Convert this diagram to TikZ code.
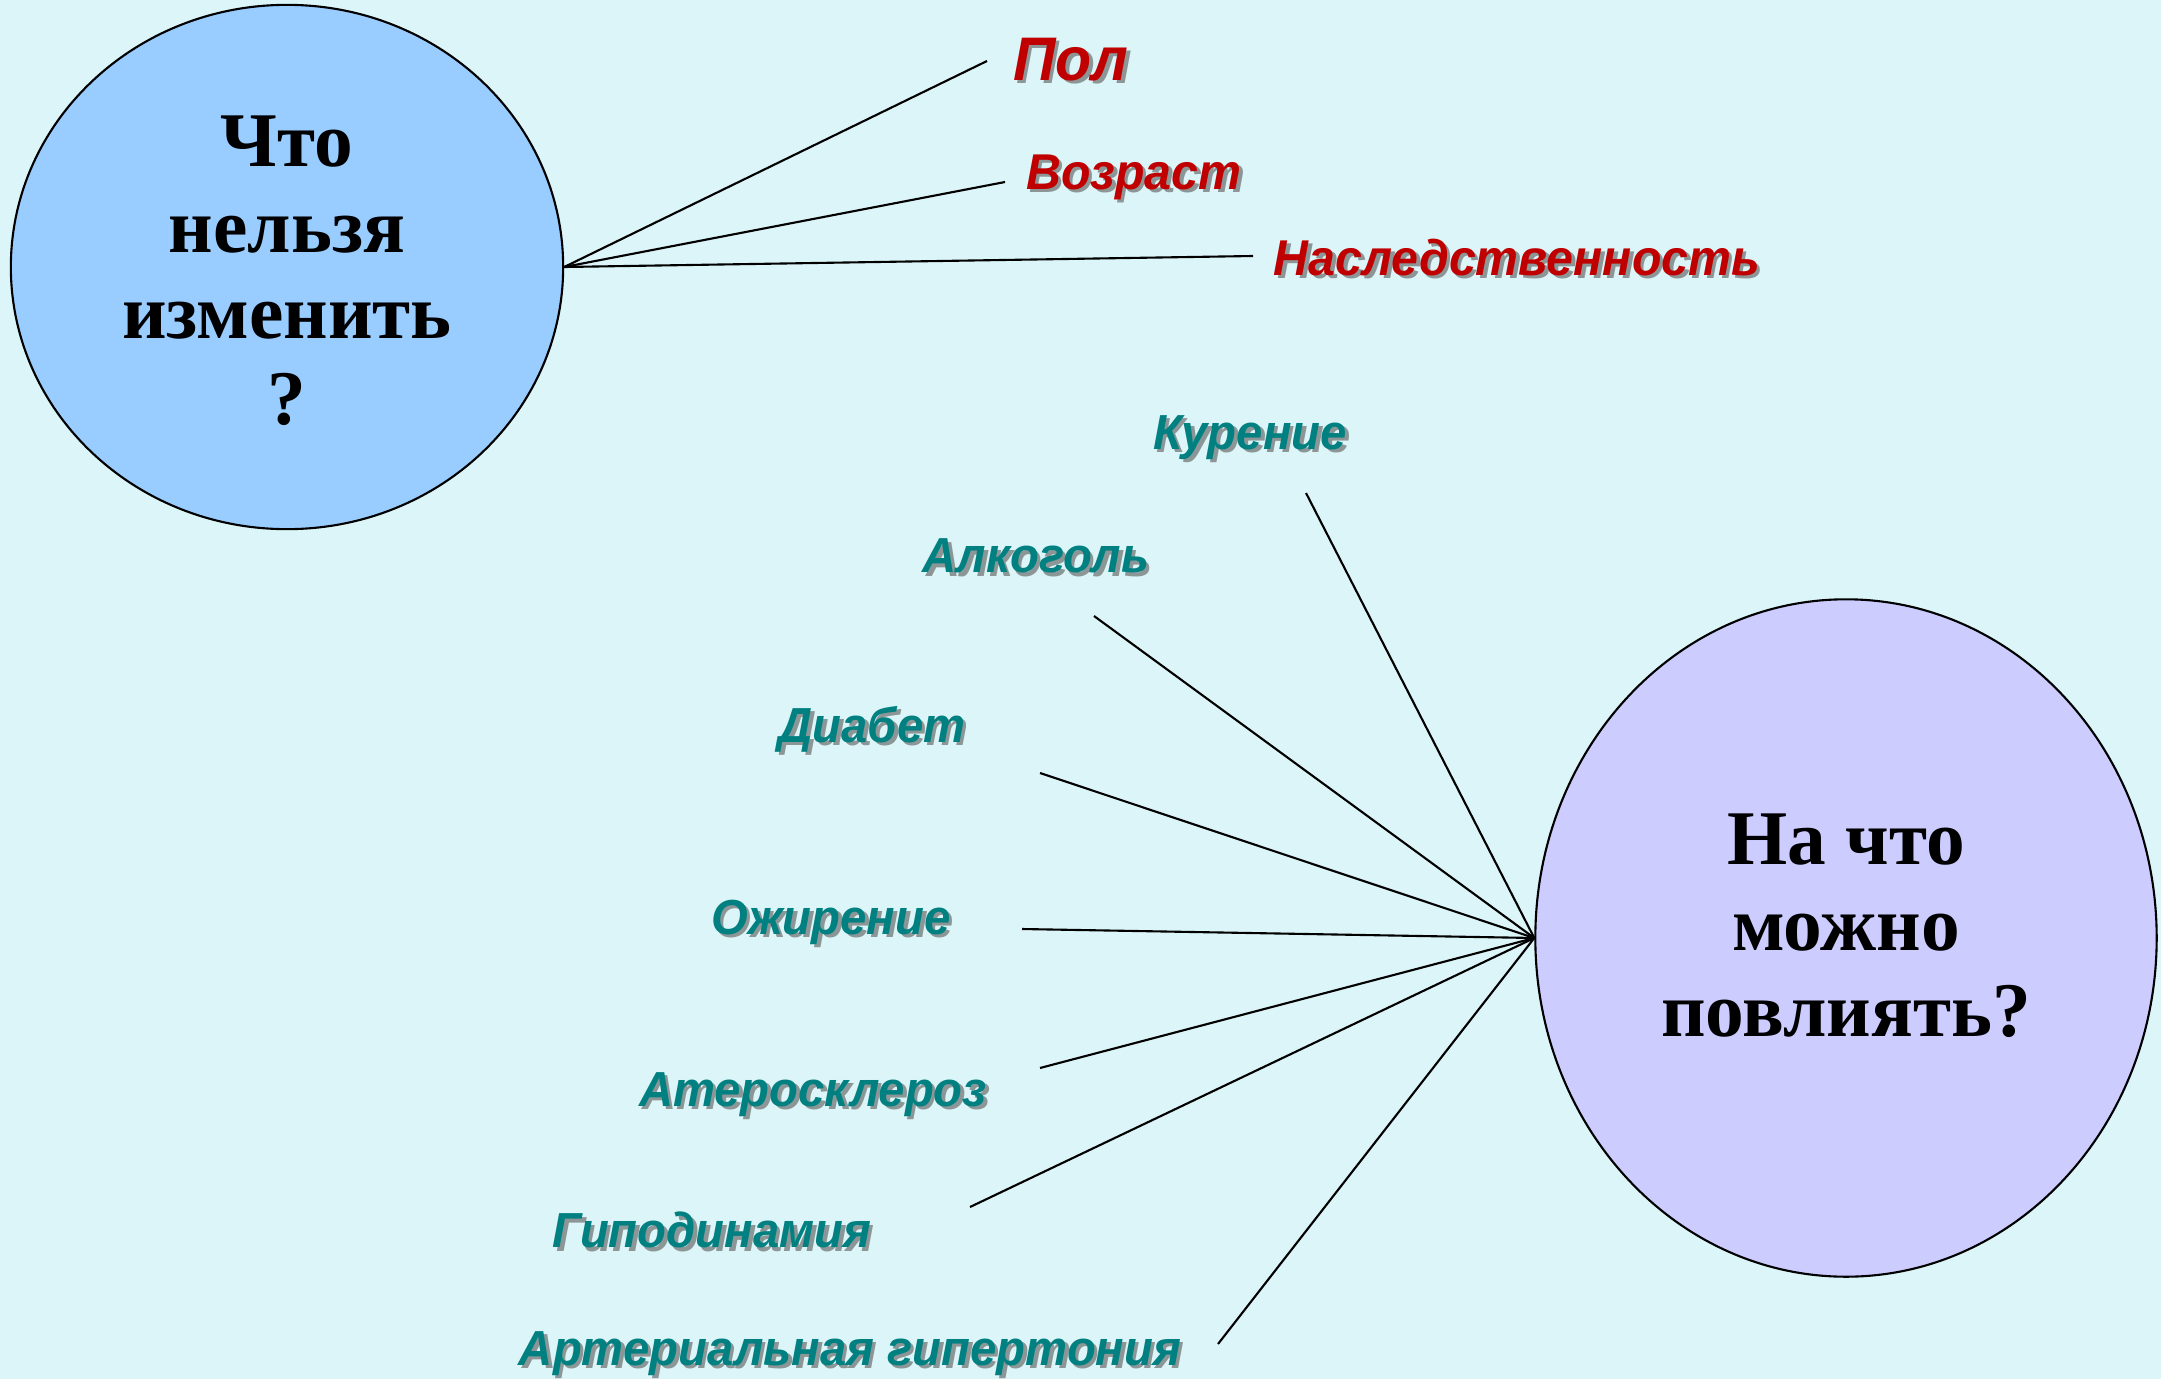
\documentclass[tikz,border=0pt]{standalone}
\usepackage{fontspec}
\setmainfont{Liberation Serif}
\newfontfamily\factfont{Liberation Sans}[FakeStretch=0.96]
\usetikzlibrary{shapes.geometric}
\definecolor{bgcol}{RGB}{220,245,248}
\definecolor{fixcol}{RGB}{153,204,255}
\definecolor{canchcol}{RGB}{204,204,255}
\definecolor{fixred}{RGB}{192,0,0}
\definecolor{canteal}{RGB}{0,128,128}
\definecolor{shadowgray}{RGB}{140,150,150}
\newcommand{\shad}[1]{\makebox[0pt][l]{\hspace{1pt}\raisebox{-1pt}{\color{shadowgray}#1}}#1}

\begin{document}
\begin{tikzpicture}[x=0.01cm, y=-0.01cm,
    bubble/.style={ellipse, draw=black, line width=0.6pt, inner sep=0pt},
    bubtext/.style={align=center, font=\fontsize{22}{24.5}\selectfont\bfseries},
    fixed/.style={text=fixred, font=\factfont\fontsize{14.3}{16}\selectfont\bfseries\itshape},
    change/.style={text=canteal, font=\factfont\fontsize{14}{16}\selectfont\bfseries\itshape},
    spoke/.style={line width=0.6pt}]
  \fill[bgcol] (0,0) rectangle (2161,1379);
  \useasboundingbox (0,0) rectangle (2161,1379);
  % What cannot be changed.
  \node[bubble, fill=fixcol, minimum width=5.52cm, minimum height=5.24cm] (fix) at (287,267) {};
  \node[bubtext] (fixtxt) at ([yshift=-1pt]fix.center) {Что\\нельзя\\изменить\\?};
  \node[fixed, font=\factfont\fontsize{17.5}{20}\selectfont\bfseries\itshape] (pol) at (1071,61) {\shad{Пол}};
  \node[fixed] (age) at (1134,179) {\shad{Возраст}};
  \node[fixed] (her) at (1517,259) {\shad{Наследственность}};
  \coordinate (polend) at (987,61);
  \coordinate (ageend) at (1005,182);
  \coordinate (herend) at (1253,256);
  \draw[spoke] (fix.east) -- (polend);
  \draw[spoke] (fix.east) -- (ageend);
  \draw[spoke] (fix.east) -- (herend);
  % What can be influenced.
  \node[bubble, fill=canchcol, minimum width=6.21cm, minimum height=6.77cm] (can) at (1846,938) {};
  \node[bubtext] (cantxt) at ([yshift=3.5pt]can.center) {На что\\можно\\повлиять?};
  \node[change] (smoke) at (1250,439) {\shad{Курение}};
  \node[change] (alco) at (1036,558) {\shad{Алкоголь}};
  \node[change] (diab) at (872,731) {\shad{Диабет}};
  \node[change] (obes) at (831,924) {\shad{Ожирение}};
  \node[change] (ath) at (813,1096) {\shad{Атеросклероз}};
  \node[change] (hypo) at (712,1232) {\shad{Гиподинамия}};
  \node[change] (hyper) at (850,1355) {\shad{Артериальная гипертония}};
  \coordinate (smokeend) at (1306,493);
  \coordinate (alcoend) at (1094,616);
  \coordinate (diabend) at (1040,773);
  \coordinate (obesend) at (1022,929);
  \coordinate (athend) at (1040,1068);
  \coordinate (hypoend) at (970,1207);
  \coordinate (hyperend) at (1218,1344);
  \draw[spoke] (can.west) -- (smokeend);
  \draw[spoke] (can.west) -- (alcoend);
  \draw[spoke] (can.west) -- (diabend);
  \draw[spoke] (can.west) -- (obesend);
  \draw[spoke] (can.west) -- (athend);
  \draw[spoke] (can.west) -- (hypoend);
  \draw[spoke] (can.west) -- (hyperend);
\end{tikzpicture}
\end{document}
